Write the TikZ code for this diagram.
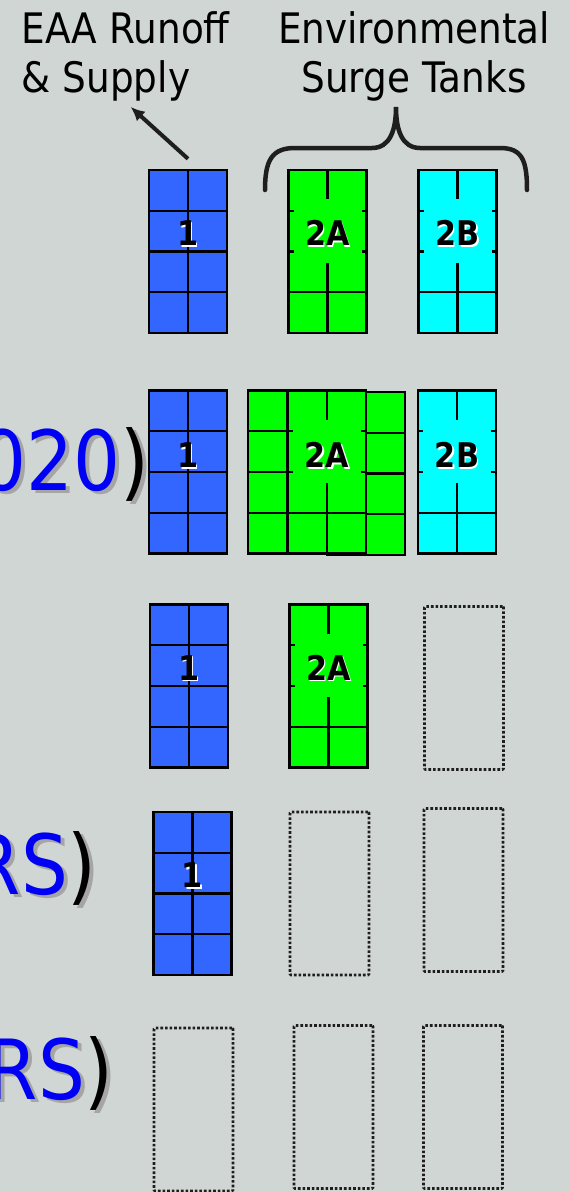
\documentclass[tikz,border=0pt]{standalone}
\usepackage{fontspec}
\usetikzlibrary{arrows.meta,calc}
\newfontfamily\slidefont[FakeStretch=0.89]{DejaVu Sans}
\definecolor{paper}{RGB}{208,214,211}
\definecolor{tankblue}{RGB}{51,102,255}
\definecolor{tankgreen}{RGB}{0,255,0}
\definecolor{tankcyan}{RGB}{0,255,255}
\definecolor{titleblue}{RGB}{0,0,245}
\definecolor{dropgrey}{RGB}{165,165,165}
\definecolor{ink}{RGB}{30,30,30}
\def\lbl#1{\rlap{\kern1.5pt\raisebox{-1.5pt}{\color{white}#1}}#1}
\def\drop#1#2{\rlap{\kern4pt\raisebox{-3pt}{\color{dropgrey}#2}}{\color{#1}#2}}

\begin{document}
\begin{tikzpicture}[x=1pt,y=-1pt,>={Latex[length=14pt,width=13pt]},node distance=130pt,
    header/.style={font=\slidefont\fontsize{42}{49}\selectfont,inner sep=0pt},
    rowtext/.style={font=\slidefont\fontsize{83}{90}\selectfont,inner sep=0pt,anchor=base east},
    tanklabel/.style={font=\slidefont\bfseries\fontsize{34}{36}\selectfont,inner sep=0pt},
    tankline/.style={line width=2.3pt},
    tank/.style={draw,line width=2.4pt,minimum width=78pt,minimum height=163pt,inner sep=0pt},
    fulltank/.style={tank,
      path picture={
        \def\pb{path picture bounding box}
        \draw[tankline] (\pb.north) -- (\pb.south);
        \foreach \f in {0.25,0.5,0.75}
          \draw[tankline] ($(\pb.north west)!\f!(\pb.south west)$) -- ($(\pb.north east)!\f!(\pb.south east)$);
      }},
    surgetank/.style={tank,
      path picture={
        \def\pb{path picture bounding box}
        \draw[tankline] (\pb.north) -- ($(\pb.north)!0.18!(\pb.south)$)
                        ($(\pb.north)!0.57!(\pb.south)$) -- (\pb.south)
                        ($(\pb.north west)!0.75!(\pb.south west)$) -- ($(\pb.north east)!0.75!(\pb.south east)$);
        \foreach \f in {0.25,0.5}
          \draw[tankline] ($(\pb.north west)!\f!(\pb.south west)$) -- ++(5pt,0)
                          ($(\pb.north east)!\f!(\pb.south east)$) -- ++(-5pt,0);
      }},
    emptytank/.style={draw=ink,line width=2.6pt,dash pattern=on 2.6pt off 2pt,
      minimum width=79pt,minimum height=163pt,inner sep=0pt,rounded corners=1pt}]

    \useasboundingbox (0,0) rectangle (569,1192);
    \clip (0,0) rectangle (569,1192);
    \fill[paper] (0,0) rectangle (569,1192);

    % headings
    \node[header,align=left,anchor=base west] (src) at (21.5,92) {EAA Runoff\\\& Supply};
    \node[header,align=center,anchor=base] (est) at (414,92) {Environmental\\Surge Tanks};

    % row 1
    \draw (188,251.5) node[fulltank,fill=tankblue] (T1a) {};
    \node[surgetank,fill=tankgreen,right of=T1a,xshift=9.5pt] (T2Aa) {};
    \node[surgetank,fill=tankcyan,right of=T2Aa] (T2Ba) {};
    \node[tanklabel] (L1a) at ([yshift=17.5pt]T1a.center) {\lbl{1}};
    \node[tanklabel] (L2Aa) at ([yshift=17.5pt]T2Aa.center) {\lbl{2A}};
    \node[tanklabel] (L2Ba) at ([yshift=17.5pt]T2Ba.center) {\lbl{2B}};

    \draw[->,line width=4pt,ink] ([yshift=10pt]T1a.north) -- ([xshift=5pt,yshift=-6pt]src.south);
    \draw[ink,line width=4.5pt,line cap=round] (265,190) .. controls (265,160) and (272,148) .. (295,148)
        -- (372,148) .. controls (390,148) and (396,130) .. (396,107)
        .. controls (396,130) and (402,148) .. (420,148)
        -- (500,148) .. controls (522,148) and (527,160) .. (527,190);

    % row 2
    \node[rowtext] (Y2) at (150,490) {\drop{titleblue}{020}\drop{black}{)}};
    \draw (188,472) node[fulltank,fill=tankblue] (T1b) {};
    \node[fulltank,fill=tankgreen,right of=T1b,xshift=-31pt] (T2Al) {};
    \node[fulltank,fill=tankgreen,right of=T2Al,xshift=-51pt,yshift=-1.5pt] (T2Ar) {};
    \node[surgetank,fill=tankgreen,right of=T1b,xshift=9pt] (T2Ab) {};
    \node[surgetank,fill=tankcyan,right of=T2Ab] (T2Bb) {};
    \node[tanklabel] (L1b) at ([yshift=16pt]T1b.center) {\lbl{1}};
    \node[tanklabel] (L2Ab) at ([yshift=16pt]T2Ab.center) {\lbl{2A}};
    \node[tanklabel] (L2Bb) at ([yshift=16pt]T2Bb.center) {\lbl{2B}};

    % row 3
    \draw (189,686) node[fulltank,fill=tankblue] (T1c) {};
    \node[surgetank,fill=tankgreen,right of=T1c,xshift=9.5pt] (T2Ac) {};
    \node[emptytank,right of=T2Ac,xshift=5.5pt,yshift=-2pt] (T2Bc) {};
    \node[tanklabel] (L1c) at ([yshift=17.5pt]T1c.center) {\lbl{1}};
    \node[tanklabel] (L2Ac) at ([yshift=17.5pt]T2Ac.center) {\lbl{2A}};

    % row 4
    \node[rowtext] (Y4) at (97,894) {\drop{titleblue}{RS}\drop{black}{)}};
    \draw (192.5,893.5) node[fulltank,fill=tankblue] (T1d) {};
    \node[emptytank,right of=T1d,xshift=7pt] (T2Ad) {};
    \node[emptytank,right of=T2Ad,xshift=4pt,yshift=3.5pt] (T2Bd) {};
    \node[tanklabel] (L1d) at ([yshift=17.5pt]T1d.center) {\lbl{1}};

    % row 5
    \node[rowtext] (Y5) at (114,1099) {\drop{titleblue}{RS}\drop{black}{)}};
    \draw (193.5,1109.5) node[emptytank] (T1e) {};
    \node[emptytank,right of=T1e,xshift=10pt,yshift=2.5pt] (T2Ae) {};
    \node[emptytank,right of=T2Ae,xshift=-0.5pt] (T2Be) {};

\end{tikzpicture}
\end{document}
